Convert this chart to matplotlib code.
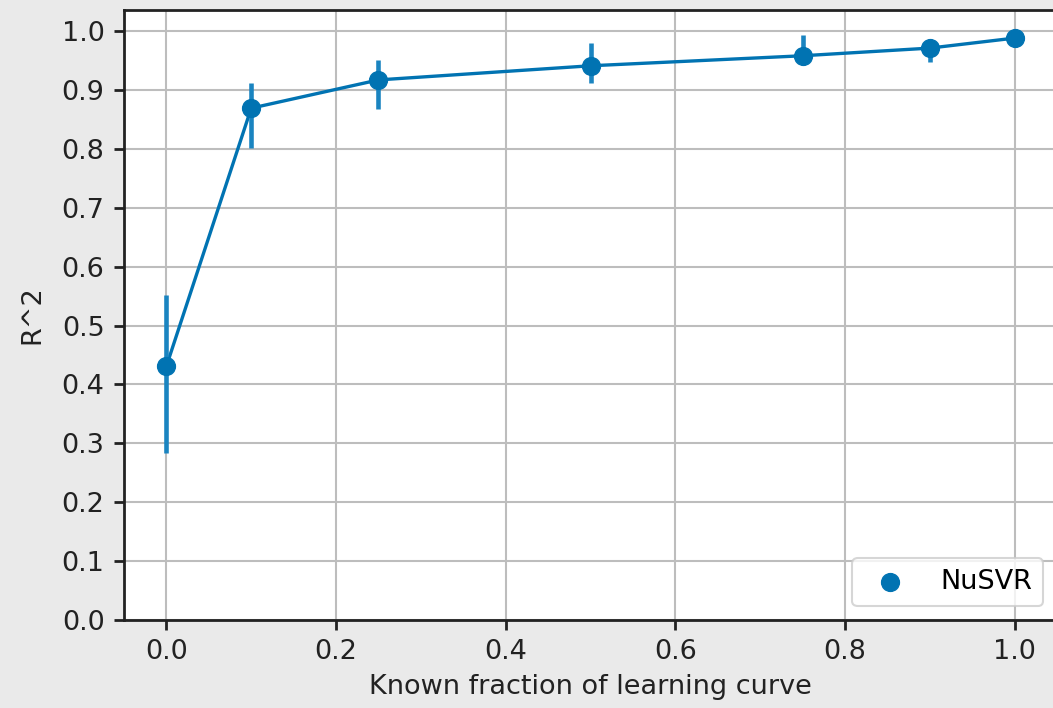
import numpy as np
import matplotlib
matplotlib.use("Agg")
import matplotlib.pyplot as plt

# Known fraction of the learning curve and resulting R^2 (mean and spread)
fractions = [0.0, 0.1, 0.25, 0.5, 0.75, 0.9, 1.0]
r2_mean = [0.431, 0.869, 0.917, 0.941, 0.958, 0.971, 0.988]
r2_low = [0.284, 0.801, 0.867, 0.911, 0.945, 0.948, 0.980]
r2_high = [0.552, 0.912, 0.950, 0.979, 0.993, 0.984, 0.995]
model_name = "NuSVR"
x_ticks = [0.0, 0.2, 0.4, 0.6, 0.8, 1.0]
y_ticks = [0.0, 0.1, 0.2, 0.3, 0.4, 0.5, 0.6, 0.7, 0.8, 0.9, 1.0]

blue = "#0173B2"
fs = 19.5

fig = plt.figure(figsize=(10.53, 7.08), dpi=100, facecolor="#eaeaea")
ax = fig.add_axes([124 / 1053, 88 / 708, 933 / 1053, 610 / 708])
ax.set_facecolor("white")

mean = np.array(r2_mean)
yerr = [mean - np.array(r2_low), np.array(r2_high) - mean]

ax.plot(fractions, r2_mean, color=blue, lw=2.4, zorder=3)
ax.errorbar(fractions, r2_mean, yerr=yerr, fmt="none", ecolor="#1a84c0",
            elinewidth=3.3, zorder=3)
ax.scatter(fractions, r2_mean, s=165, color=blue, zorder=4, label=model_name)

ax.set_xlim(-0.05, 1.05)
ax.set_ylim(0, 1.0357)
ax.set_xticks(x_ticks)
ax.set_yticks(y_ticks)
ax.set_xticklabels([f"{v:.1f}" for v in x_ticks])
ax.set_yticklabels([f"{v:.1f}" for v in y_ticks])
ax.tick_params(labelsize=fs, length=7, width=2, colors="#222222", pad=7)
ax.grid(True, color="#bdbdbd", lw=1.5)
ax.set_axisbelow(True)
for s in ax.spines.values():
    s.set_linewidth(2.0)
    s.set_color("#222222")

ax.set_xlabel("Known fraction of learning curve", fontsize=fs, color="#222222",
              labelpad=6)
ax.set_ylabel("R^2", fontsize=fs, color="#222222", labelpad=12)

leg = ax.legend(loc="lower right", bbox_to_anchor=(1 - 14 / 933, 14 / 610),
                borderaxespad=0, fontsize=fs, scatterpoints=1, borderpad=0.4,
                handlelength=2.0, handletextpad=0.85, framealpha=0.8)
leg.get_frame().set_linewidth(1.5)

fig.savefig("out.png", dpi=100, facecolor=fig.get_facecolor())
